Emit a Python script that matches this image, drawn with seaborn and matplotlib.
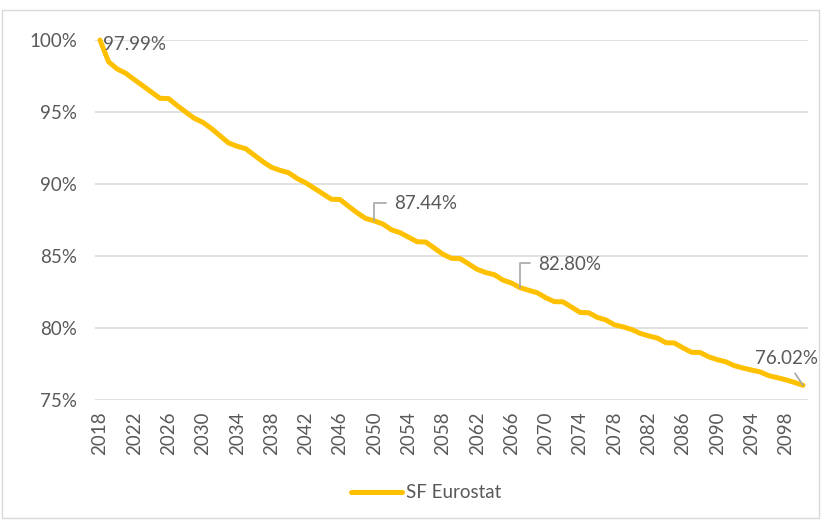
import matplotlib
matplotlib.use("Agg")
import matplotlib.pyplot as plt
from matplotlib.patches import Rectangle
from matplotlib.ticker import FuncFormatter
import numpy as np
import pandas as pd
import seaborn as sns

# Share of population (SF Eurostat), yearly 2018-2100, in percent
years = list(range(2018, 2101))
share = [
    100.00, 98.49, 97.99, 97.69, 97.25, 96.82, 96.38, 95.95, 95.93, 95.45,
    95.00, 94.56, 94.28, 93.85, 93.35, 92.85, 92.62, 92.45, 92.00, 91.55,
    91.16, 90.95, 90.78, 90.38, 90.08, 89.70, 89.32, 88.94, 88.92, 88.45,
    88.00, 87.60, 87.44, 87.22, 86.82, 86.62, 86.30, 85.99, 85.97, 85.55,
    85.12, 84.84, 84.82, 84.45, 84.07, 83.85, 83.70, 83.33, 83.12, 82.80,
    82.62, 82.45, 82.10, 81.83, 81.82, 81.45, 81.08, 81.06, 80.74, 80.56,
    80.22, 80.08, 79.90, 79.63, 79.45, 79.30, 78.98, 78.96, 78.62, 78.31,
    78.30, 78.00, 77.80, 77.65, 77.38, 77.22, 77.08, 76.95, 76.69, 76.55,
    76.40, 76.22, 76.02,
]
series_name = "SF Eurostat"
y_ticks = [75, 80, 85, 90, 95, 100]
x_ticks = list(range(2018, 2099, 4))
labelled_years = [2020, 2050, 2067, 2100]

df = pd.DataFrame({"year": years, "share": share})

sns.set_theme(style="white")
plt.rcParams["font.family"] = ["Lato", "DejaVu Sans"]

GOLD = "#FFC000"
GREY_TXT = "#595959"
GRID = "#D9D9D9"

fig = plt.figure(figsize=(8.22, 5.20), dpi=100)
W, H = 822, 520
ax = fig.add_axes([95 / W, 1 - 400 / H, (808 - 95) / W, (400 - 40) / H])

sns.lineplot(data=df, x="year", y="share", ax=ax, color=GOLD, linewidth=3.6,
             label=series_name, solid_joinstyle="round", solid_capstyle="round",
             clip_on=False, zorder=3)

ax.set_xlim(2017.42, 2100.58)
ax.set_ylim(75, 100)
ax.set_yticks(y_ticks)
ax.yaxis.set_major_formatter(FuncFormatter(lambda v, _: f"{v:.0f}%"))
ax.set_xticks(x_ticks)
ax.set_xticklabels([str(t) for t in x_ticks], rotation=90)
ax.tick_params(axis="y", length=0, pad=13, labelsize=13.5, labelcolor=GREY_TXT)
ax.tick_params(axis="x", length=0, pad=8.5, labelsize=13.5, labelcolor=GREY_TXT)
ax.set_xlabel("")
ax.set_ylabel("")
for s in ax.spines.values():
    s.set_visible(False)
ax.grid(axis="y", color=GRID, linewidth=1.1, zorder=0)
ax.grid(axis="x", visible=False)

# Data labels, with leader lines where the label sits away from the line
value_of = dict(zip(years, share))
label_specs = {
    2020: dict(text=(-14, 24), ha="left", leader=None),
    2050: dict(text=(20, 17), ha="left", leader=((12, 18), "angle,angleA=0,angleB=90,rad=0")),
    2067: dict(text=(18, 23), ha="left", leader=((10, 25), "angle,angleA=0,angleB=90,rad=0")),
    2100: dict(text=(-17, 27), ha="center", leader=((-8, 12), "arc3,rad=0")),
}
for yr in labelled_years:
    v = value_of[yr]
    spec = label_specs[yr]
    if spec["leader"] is not None:
        off, style = spec["leader"]
        ax.annotate("", xy=(yr, v), xytext=off, textcoords="offset pixels",
                    arrowprops=dict(arrowstyle="-", color="#A6A6A6", lw=1.2,
                                    connectionstyle=style, shrinkA=0, shrinkB=0),
                    annotation_clip=False, zorder=4)
    ax.annotate(f"{v:.2f}%", xy=(yr, v), xytext=spec["text"],
                textcoords="offset pixels", ha=spec["ha"], va="center",
                fontsize=13.5, color=GREY_TXT, annotation_clip=False, zorder=5)

ax.get_legend().remove()
handles, labels = ax.get_legend_handles_labels()
fig.legend(handles, labels, loc="center", bbox_to_anchor=(426 / W, 1 - 493 / H),
           frameon=False, fontsize=13.5, labelcolor=GREY_TXT,
           handlelength=2.7, handletextpad=0.2)

# Chart frame
fig.patches.append(Rectangle((2 / W, 2 / H), (819 - 2) / W, (510 - 2) / H,
                             transform=fig.transFigure, fill=False,
                             edgecolor=GRID, linewidth=1.0))

fig.savefig("out.png", dpi=100)
